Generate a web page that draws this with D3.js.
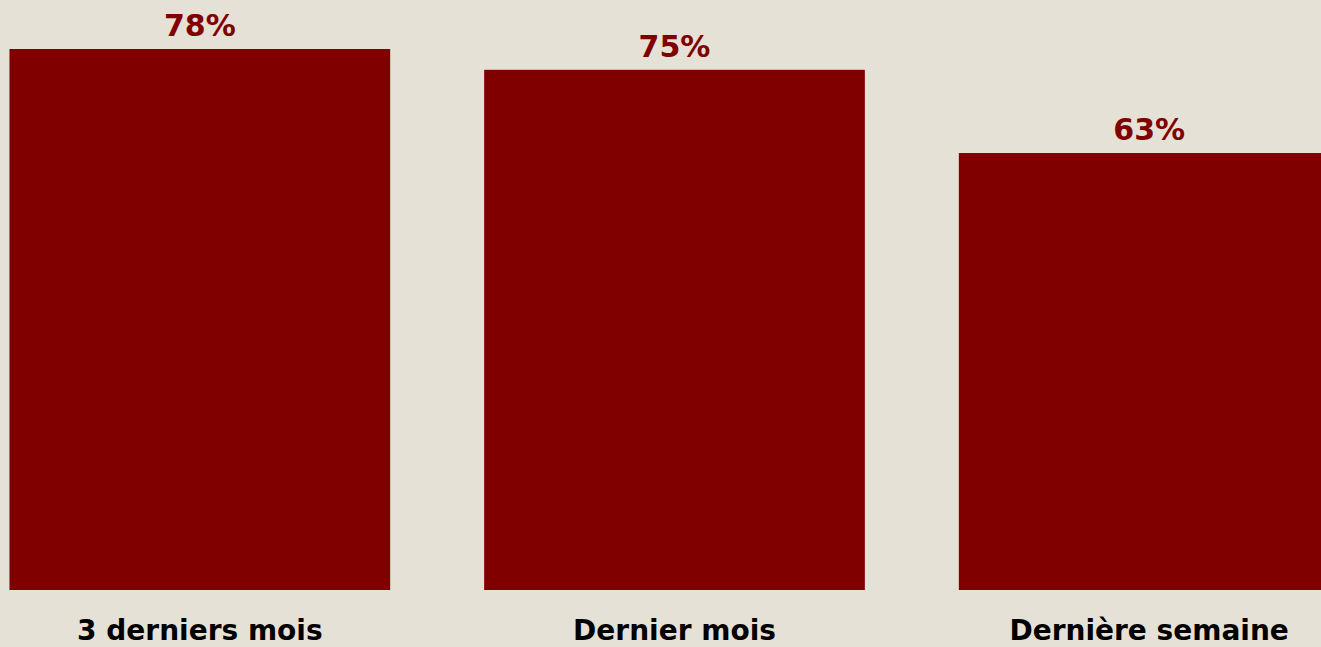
<!DOCTYPE html>
<html>
<head>
<meta charset="utf-8">
<script src="https://cdn.jsdelivr.net/npm/d3@7"></script>
<style>
    body { margin: 0; background: #e6e1d6; overflow: hidden; }
    svg { display: block; }
    .value-label { font-family: "DejaVu Sans", Verdana, sans-serif; font-weight: bold; font-size: 30px; fill: #800000; }
    .cat-label { font-family: "DejaVu Sans", Verdana, sans-serif; font-weight: bold; font-size: 28px; fill: #000; }
</style>
</head>
<body>
<div id="chart"></div>
<script>
let categories = ["3 derniers mois", "Dernier mois", "Dernière semaine"];
let values = [78, 75, 63];

let width = 1321, height = 647;

let svg = d3.select("#chart").append("svg")
    .attr("width", width)
    .attr("height", height);

// bars run off the right edge a little, like in the original
let xScale = d3.scaleBand()
    .domain(categories)
    .range([-38, 1387])
    .paddingInner(0.198)
    .paddingOuter(0.1);

let yScale = d3.scaleLinear().domain([0, 78]).range([590, 49]);

svg.append("g").selectAll("rect")
    .data(values)
    .enter().append("rect")
    .attr("x", (d, i) => xScale(categories[i]))
    .attr("y", d => yScale(d))
    .attr("width", xScale.bandwidth())
    .attr("height", d => yScale(0) - yScale(d))
    .attr("fill", "#800000");

svg.append("g").selectAll("text")
    .data(values)
    .enter().append("text")
    .attr("class", "value-label")
    .attr("text-anchor", "middle")
    .attr("x", (d, i) => xScale(categories[i]) + xScale.bandwidth() / 2)
    .attr("y", d => yScale(d) - 13)
    .text(d => d + "%");

svg.append("g").selectAll("text")
    .data(categories)
    .enter().append("text")
    .attr("class", "cat-label")
    .attr("text-anchor", "middle")
    .attr("x", d => xScale(d) + xScale.bandwidth() / 2)
    .attr("y", 640)
    .text(d => d);
</script>
</body>
</html>
